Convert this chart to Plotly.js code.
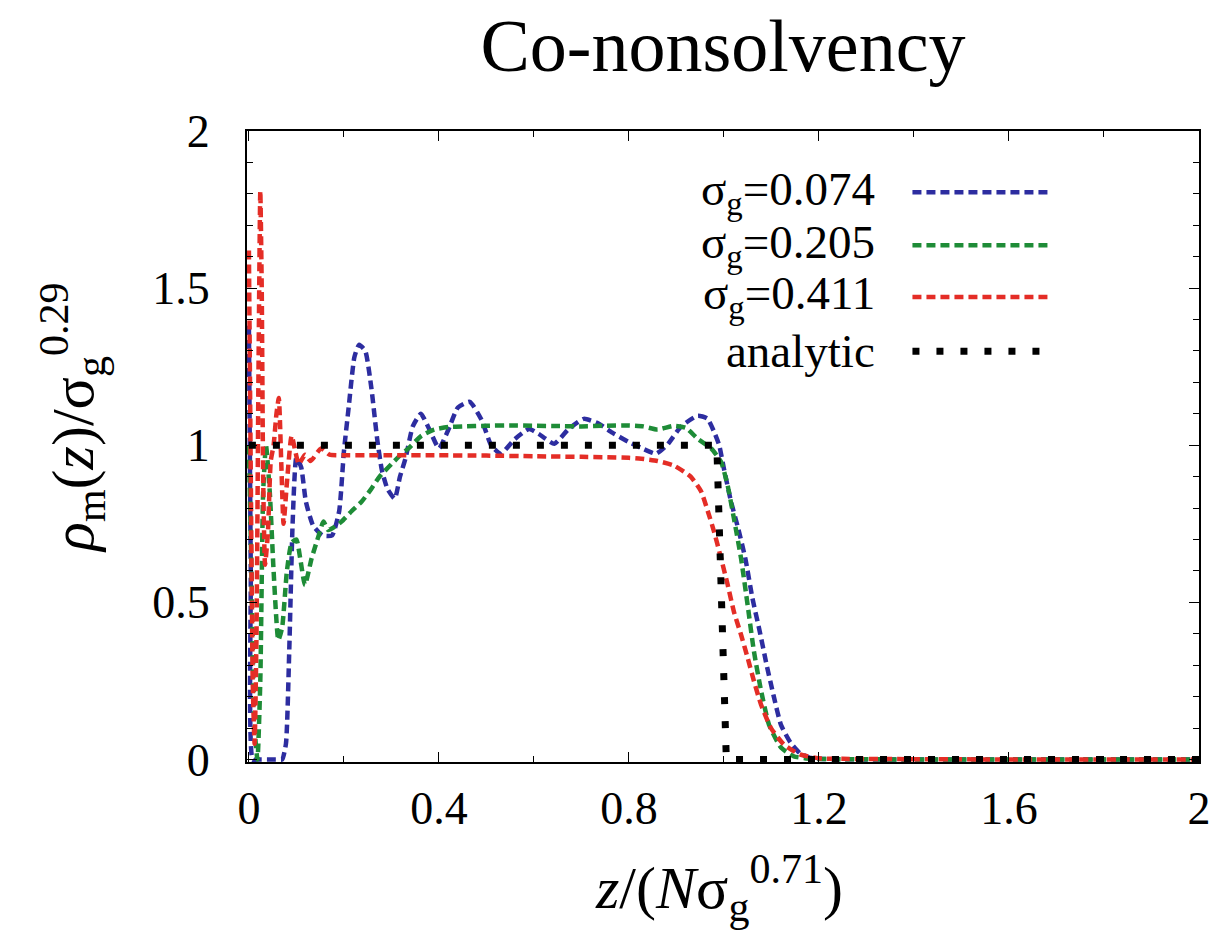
<!DOCTYPE html>
<html>
<head>
<meta charset="utf-8">
<script src="https://cdn.plot.ly/plotly-3.0.1.min.js"></script>
<style>html,body{margin:0;padding:0;background:#fff;}#chart{width:1225px;height:940px;}</style>
</head>
<body>
<div id="chart"></div>
<script>
// sigma_g = 0.074
const blueX = [0, 0.004, 0.008, 0.02, 0.04, 0.06, 0.07, 0.078, 0.085, 0.092, 0.1, 0.11, 0.12, 0.135, 0.155, 0.175, 0.19, 0.2, 0.21, 0.222, 0.232, 0.245, 0.258, 0.27, 0.28, 0.292, 0.307, 0.318, 0.33, 0.345, 0.362, 0.38, 0.4, 0.42, 0.44, 0.465, 0.49, 0.51, 0.53, 0.56, 0.59, 0.61, 0.643, 0.672, 0.705, 0.735, 0.765, 0.8, 0.828, 0.857, 0.88, 0.91, 0.945, 0.965, 0.98, 0.99, 1.0, 1.015, 1.03, 1.045, 1.06, 1.075, 1.09, 1.105, 1.12, 1.14, 1.16, 1.18, 1.2, 1.25, 1.3, 1.4, 1.6, 1.8, 2.0];
const blueY = [1.38, 0.6, 0.0, 0, 0, 0, 0.0, 0.05, 0.35, 0.75, 0.96, 0.93, 0.82, 0.745, 0.713, 0.713, 0.79, 0.98, 1.12, 1.28, 1.32, 1.3, 1.18, 1.02, 0.92, 0.86, 0.83, 0.9, 0.96, 1.06, 1.1, 1.05, 0.99, 1.05, 1.12, 1.138, 1.08, 1.0, 0.973, 1.02, 1.052, 1.036, 1.005, 1.05, 1.084, 1.07, 1.04, 1.01, 0.99, 0.973, 1.0, 1.06, 1.094, 1.085, 1.04, 1.0, 0.925, 0.82, 0.735, 0.64, 0.513, 0.41, 0.30, 0.2, 0.11, 0.054, 0.02, 0.006, 0.002, 0.001, 0, 0, 0, 0, 0];
// sigma_g = 0.205
const greenX = [0, 0.006, 0.012, 0.018, 0.024, 0.03, 0.036, 0.044, 0.052, 0.062, 0.07, 0.08, 0.09, 0.1, 0.108, 0.118, 0.132, 0.147, 0.157, 0.167, 0.18, 0.195, 0.216, 0.237, 0.258, 0.275, 0.3, 0.32, 0.336, 0.363, 0.39, 0.42, 0.45, 0.5, 0.55, 0.6, 0.65, 0.7, 0.75, 0.8, 0.83, 0.86, 0.895, 0.92, 0.945, 0.973, 0.994, 1.008, 1.021, 1.036, 1.05, 1.063, 1.078, 1.095, 1.12, 1.147, 1.17, 1.19, 1.25, 1.4, 1.6, 1.8, 2.0];
const greenY = [1.0, 0.55, 0.1, 0.0, 0.25, 0.85, 1.0, 0.85, 0.6, 0.38, 0.42, 0.6, 0.69, 0.7, 0.64, 0.555, 0.64, 0.713, 0.757, 0.73, 0.74, 0.757, 0.79, 0.82, 0.862, 0.90, 0.94, 0.97, 0.99, 1.03, 1.05, 1.058, 1.06, 1.062, 1.063, 1.062, 1.061, 1.06, 1.062, 1.063, 1.06, 1.05, 1.062, 1.055, 1.02, 0.99, 0.947, 0.87, 0.767, 0.64, 0.49, 0.345, 0.22, 0.11, 0.038, 0.01, 0.004, 0.002, 0.001, 0, 0, 0, 0];
// sigma_g = 0.411
const redX = [0, 0.004, 0.008, 0.012, 0.016, 0.02, 0.024, 0.027, 0.03, 0.034, 0.04, 0.046, 0.052, 0.058, 0.063, 0.068, 0.073, 0.08, 0.09, 0.105, 0.118, 0.13, 0.152, 0.17, 0.2, 0.25, 0.3, 0.4, 0.5, 0.6, 0.7, 0.75, 0.8, 0.826, 0.86, 0.895, 0.93, 0.952, 0.966, 0.979, 0.994, 1.008, 1.021, 1.036, 1.05, 1.063, 1.078, 1.099, 1.126, 1.16, 1.204, 1.25, 1.4, 1.6, 1.8, 2.0];
const redY = [1.62, 0.9, 0.25, 0.05, 0.4, 1.2, 1.81, 1.5, 0.9, 0.62, 0.72, 0.95, 1.0, 1.1, 1.15, 0.95, 0.75, 0.88, 1.03, 0.94, 0.97, 0.95, 0.99, 0.97, 0.968, 0.968, 0.968, 0.968, 0.967, 0.965, 0.963, 0.962, 0.96, 0.957, 0.95, 0.935, 0.9, 0.853, 0.79, 0.726, 0.64, 0.555, 0.47, 0.397, 0.323, 0.25, 0.175, 0.10, 0.048, 0.016, 0.003, 0.002, 0.001, 0, 0, 0];
// analytic
const anaX = [0, 0.985, 1.005, 2.0];
const anaY = [1, 1, 0, 0];

const seriesNames = ['σ<sub>g</sub>=0.074', 'σ<sub>g</sub>=0.205', 'σ<sub>g</sub>=0.411', 'analytic'];
const colors = ['rgb(45,45,160)', 'rgb(30,140,55)', 'rgb(228,45,38)', 'rgb(0,0,0)'];
const xTickVals = [0, 0.4, 0.8, 1.2, 1.6, 2];
const xTickText = ['0', '0.4', '0.8', '1.2', '1.6', '2'];
const yTickVals = [0, 0.5, 1, 1.5, 2];
const yTickText = ['0', '0.5', '1', '1.5', '2'];

const serif = 'Liberation Serif, Times New Roman, serif';
const dashS = '9px,5px';
const dashA = '7px,17px';

function tr(x, y, i, dash, w, shape) {
  return {x: x, y: y, type: 'scatter', mode: 'lines', name: seriesNames[i], showlegend: false,
    line: {color: colors[i], width: w, dash: dash, shape: shape, smoothing: 0.5}};
}
const data = [
  tr(blueX, blueY, 0, dashS, 4.5, 'spline'),
  tr(greenX, greenY, 1, dashS, 4.5, 'spline'),
  tr(redX, redY, 2, dashS, 4.5, 'spline'),
  tr(anaX, anaY, 3, dashA, 7, 'linear')
];

// manual legend (text left, sample right)
const legY = [0.903, 0.819, 0.737, 0.651];
const annotations = [];
const shapes = [];
for (let i = 0; i < 4; i++) {
  annotations.push({xref: 'paper', yref: 'paper', x: 0.662, y: legY[i], xanchor: 'right', yanchor: 'middle',
    text: seriesNames[i], showarrow: false, font: {family: serif, size: 47, color: '#000'}});
  shapes.push({type: 'line', xref: 'paper', yref: 'paper', x0: 0.699, x1: 0.843, y0: legY[i], y1: legY[i],
    line: {color: colors[i], width: i === 3 ? 7 : 4.5, dash: i === 3 ? dashA : dashS}});
}
annotations.push({xref: 'paper', yref: 'paper', x: -0.183, y: 0.545, xanchor: 'center', yanchor: 'middle', textangle: -90,
  text: '<i>ρ</i><sub>m</sub>(<i>z</i>)/σ<sub>g</sub><sup>0.29</sup>', showarrow: false, font: {family: serif, size: 60, color: '#000'}});
annotations.push({xref: 'paper', yref: 'paper', x: 0.496, y: -0.2, xanchor: 'center', yanchor: 'middle',
  text: '<i>z</i>/(<i>N</i>σ<sub>g</sub><sup>0.71</sup>)', showarrow: false, font: {family: serif, size: 60, color: '#000'}});

const axisCommon = {
  showgrid: false, zeroline: false, showline: true, linecolor: '#000', linewidth: 2, mirror: 'allticks',
  ticks: 'inside', ticklen: 10, tickwidth: 1, tickcolor: '#000',
  tickfont: {family: serif, size: 46, color: '#000'}
};
const layout = {
  width: 1225, height: 940,
  margin: {l: 247, r: 26, t: 131, b: 178},
  paper_bgcolor: '#fff', plot_bgcolor: '#fff',
  title: {text: 'Co-nonsolvency', font: {family: serif, size: 74, color: '#000'}, xref: 'paper', x: 0.5, xanchor: 'center', yref: 'container', y: 0.952, yanchor: 'middle'},
  xaxis: Object.assign({}, axisCommon, {range: [-0.004, 2], tickmode: 'array', tickvals: xTickVals, ticktext: xTickText, ticklabelstandoff: 5,
    minor: {dtick: 0.2, tick0: 0, ticks: 'inside', ticklen: 6, tickcolor: '#000', tickwidth: 1, showgrid: false}}),
  yaxis: Object.assign({}, axisCommon, {range: [-0.008, 2], tickmode: 'array', tickvals: yTickVals, ticktext: yTickText, ticklabelstandoff: 26,
    minor: {dtick: 0.1, tick0: 0, ticks: 'inside', ticklen: 6, tickcolor: '#000', tickwidth: 1, showgrid: false}}),
  showlegend: false,
  annotations: annotations,
  shapes: shapes
};
Plotly.newPlot('chart', data, layout, {displayModeBar: false, staticPlot: true});
</script>
</body>
</html>
